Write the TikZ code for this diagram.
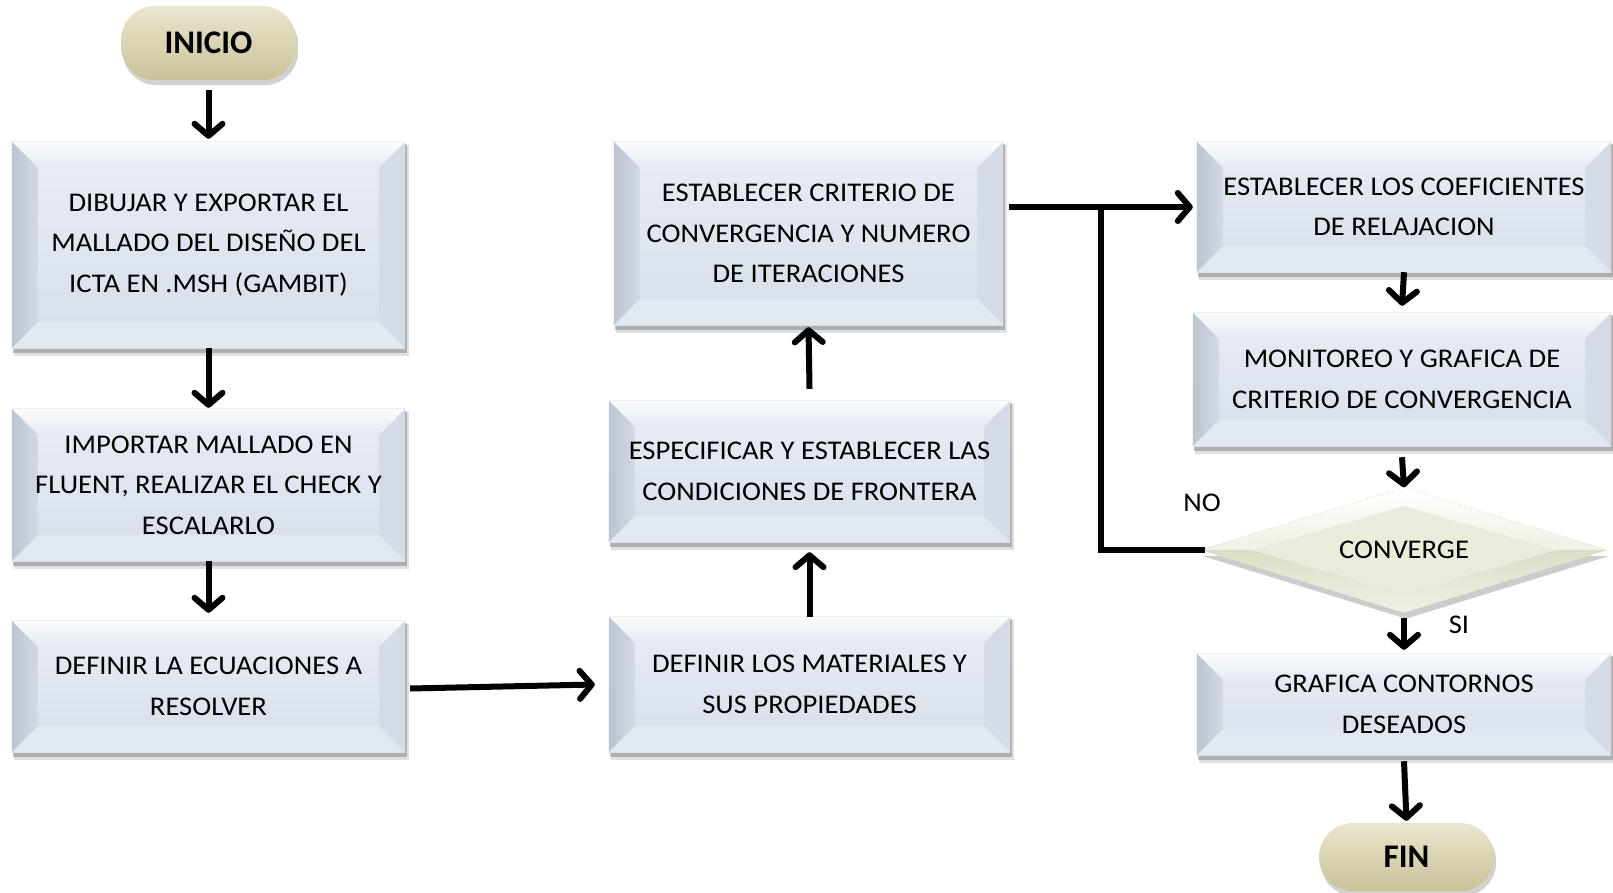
\documentclass[tikz,border=0pt]{standalone}
\usepackage{fontspec}
\setmainfont{Carlito}
\newfontfamily\boxfam[FakeStretch=1.06]{Carlito}
\usetikzlibrary{arrows.meta,calc,shapes.geometric}
\pgfdeclarelayer{bg}
\pgfsetlayers{bg,main}
\definecolor{faceTop}{HTML}{E9EEF5}
\definecolor{faceBot}{HTML}{D7DEE8}
\definecolor{bevTopA}{HTML}{FBFCFE}
\definecolor{bevTopB}{HTML}{E3E9F2}
\definecolor{bevLeftA}{HTML}{BCC4D1}
\definecolor{bevLeftB}{HTML}{D2D9E3}
\definecolor{bevRight}{HTML}{D4DBE5}
\definecolor{bevBot}{HTML}{E2E8EF}
\definecolor{pillTop}{HTML}{EAE6CF}
\definecolor{pillMid}{HTML}{DAD4B3}
\definecolor{pillBot}{HTML}{C9C197}
\definecolor{diaTop}{HTML}{EEF1E4}
\definecolor{diaBot}{HTML}{D9DFC6}
\newcommand\bvl{26pt}
\newcommand\bevelbox[1]{%
  \begin{pgfonlayer}{bg}
    \fill[black,opacity=.12] ([shift={(2pt,-8pt)}]#1.south west) rectangle ([shift={(4pt,-3pt)}]#1.north east);
    \fill[black,opacity=.22] ([shift={(1pt,-5pt)}]#1.south west) rectangle ([shift={(2pt,-2pt)}]#1.north east);
    \shade[top color=faceTop,bottom color=faceBot] (#1.south west) rectangle (#1.north east);
    \shade[top color=bevTopA,bottom color=bevTopB] (#1.north west) -- (#1.north east) -- ([shift={(-\bvl,-\bvl)}]#1.north east) -- ([shift={(\bvl,-\bvl)}]#1.north west) -- cycle;
    \shade[left color=bevLeftA,right color=bevLeftB] (#1.north west) -- ([shift={(\bvl,-\bvl)}]#1.north west) -- ([shift={(\bvl,\bvl)}]#1.south west) -- (#1.south west) -- cycle;
    \fill[bevRight] (#1.north east) -- (#1.south east) -- ([shift={(-\bvl,\bvl)}]#1.south east) -- ([shift={(-\bvl,-\bvl)}]#1.north east) -- cycle;
    \fill[bevBot] (#1.south west) -- ([shift={(\bvl,\bvl)}]#1.south west) -- ([shift={(-\bvl,\bvl)}]#1.south east) -- (#1.south east) -- cycle;
  \end{pgfonlayer}}
\newcommand\pillshadow[1]{%
  \begin{pgfonlayer}{bg}
    \fill[black,opacity=.18,rounded corners=34pt] ([shift={(2pt,-5pt)}]#1.south west) rectangle ([shift={(2pt,-5pt)}]#1.north east);
  \end{pgfonlayer}}
\tikzset{
  box/.style={rectangle,inner sep=0pt,align=center,text=black,
    font=\boxfam\fontsize{27}{40.5}\selectfont},
  pill/.style={rectangle,rounded corners=34pt,inner sep=0pt,
    top color=pillTop,bottom color=pillBot,middle color=pillMid,
    font=\fontsize{33}{36}\selectfont\bfseries},
  lbl/.style={inner sep=0pt,font=\boxfam\fontsize{27}{30}\selectfont},
  arr/.style={line width=6pt,-{Straight Barb[length=12pt,width=28pt,round]}},
  fline/.style={line width=6pt}
}
\begin{document}
\begin{tikzpicture}[x=1pt,y=-1pt]
\useasboundingbox (0,0) rectangle (1613,893);

\node[pill,minimum width=175pt,minimum height=74pt] (inicio) at (208.5,43) {INICIO};
\pillshadow{inicio}

\node[box,minimum width=393pt,minimum height=206pt] (b1) at (208.5,245)
  {DIBUJAR Y EXPORTAR EL\\MALLADO DEL DISEÑO DEL\\ICTA EN .MSH (GAMBIT)};
\node[box,minimum width=393pt,minimum height=152pt] (b2) at (208.5,485)
  {IMPORTAR MALLADO EN\\FLUENT, REALIZAR EL CHECK Y\\ESCALARLO};
\node[box,minimum width=393pt,minimum height=131pt] (b3) at (208.5,686.5)
  {DEFINIR LA ECUACIONES A\\RESOLVER};
\node[box,minimum width=401pt,minimum height=135pt] (b4) at (809.5,684.5)
  {DEFINIR LOS MATERIALES Y\\SUS PROPIEDADES};
\node[box,minimum width=401pt,minimum height=141pt] (b5) at (809.5,471.5)
  {ESPECIFICAR Y ESTABLECER LAS\\CONDICIONES DE FRONTERA};
\node[box,minimum width=389pt,minimum height=183pt] (b6) at (808.5,233.5)
  {ESTABLECER CRITERIO DE\\CONVERGENCIA Y NUMERO\\DE ITERACIONES};
\node[box,minimum width=414pt,minimum height=130pt] (b7) at (1404,207)
  {ESTABLECER LOS COEFICIENTES\\DE RELAJACION};
\node[box,minimum width=418pt,minimum height=133pt] (b8) at (1402,379.5)
  {MONITOREO Y GRAFICA DE\\CRITERIO DE CONVERGENCIA};
\node[box,minimum width=414pt,minimum height=101pt] (b9) at (1404,704.5)
  {GRAFICA CONTORNOS\\DESEADOS};

\foreach \n in {b1,b2,b3,b4,b5,b6,b7,b8,b9} {\bevelbox{\n}}

\node[diamond,shape aspect=3.2,inner sep=0pt,minimum width=406pt,minimum height=125pt,
  font=\boxfam\fontsize{27}{30}\selectfont] (dia) at (1404,550) {CONVERGE};
\begin{pgfonlayer}{bg}
  \fill[black,opacity=.2] ([shift={(2pt,-6pt)}]dia.west) -- ([shift={(2pt,-6pt)}]dia.south) -- ([shift={(2pt,-6pt)}]dia.east) -- cycle;
  \shade[top color=white,bottom color=diaTop] (dia.west) -- (dia.north) -- (dia.east) -- cycle;
  \shade[top color=diaBot,bottom color=diaTop] (dia.west) -- (dia.south) -- (dia.east) -- cycle;
  \fill[diaTop!70!diaBot] ($(dia.west)!0.25!(dia.center)$) -- ($(dia.north)!0.3!(dia.center)$) -- ($(dia.east)!0.25!(dia.center)$) -- ($(dia.south)!0.3!(dia.center)$) -- cycle;
  \draw[black!25,dotted,line width=.6pt] (dia.west) -- (dia.north) -- (dia.east);
\end{pgfonlayer}

\node[pill,minimum width=175pt,minimum height=68pt] (fin) at (1406.5,857) {FIN};
\pillshadow{fin}

\node[lbl] (no) at (1202,503) {NO};
\node[lbl] (si) at (1459,625) {SI};

\coordinate (j) at (1101,207);

\draw[arr] ([yshift=-10pt]inicio.south) -- ([yshift=3pt]b1.north);
\draw[arr] (b1.south) -- ([yshift=1pt]b2.north);
\draw[arr] (b2.south) -- ([yshift=8pt]b3.north);
\draw[arr] ([xshift=5pt,yshift=-2pt]b3.east) -- ([xshift=-14pt]b4.west);
\draw[arr] (b4.north) -- ([yshift=-10pt]b5.south);
\draw[arr] ([yshift=12pt]b5.north) -- ([yshift=-2pt]b6.south);
\draw[arr] ([xshift=6pt]b6.east |- b7.west) -- ([xshift=-4pt]b7.west);
\draw[arr] (b7.south) -- ([yshift=7pt]b8.north);
\draw[arr] ([yshift=-11pt]b8.south) -- (dia.north);
\draw[arr] ([yshift=-5pt]dia.south) -- ([yshift=4pt]b9.north);
\draw[arr] ([yshift=-6pt]b9.south) -- ([yshift=2pt]fin.north);
\draw[fline] ([xshift=4pt]dia.west) -| (j);
\end{tikzpicture}
\end{document}
